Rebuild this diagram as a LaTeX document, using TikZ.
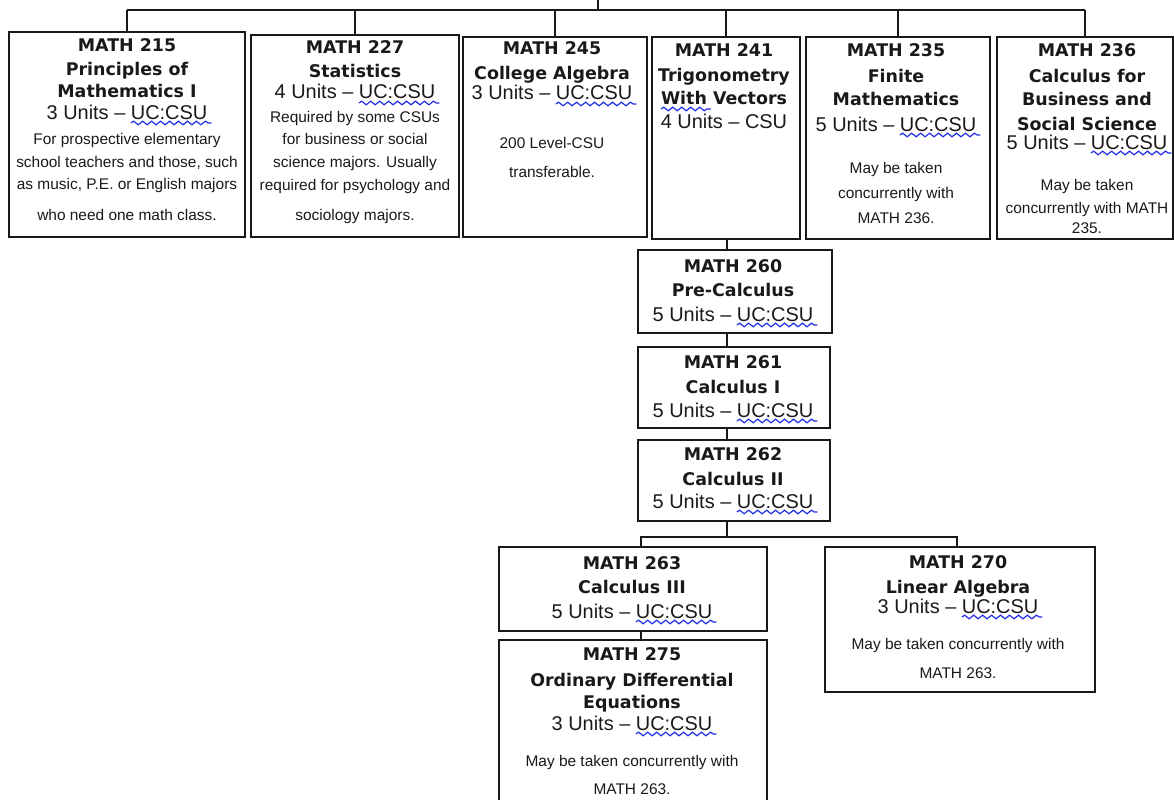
\documentclass[tikz,border=0pt]{standalone}
\usepackage{fontspec}
\setmainfont{Liberation Sans}
\newfontfamily\ttlfamily{DejaVu Sans}
\usetikzlibrary{decorations.pathmorphing}
\definecolor{sqblue}{RGB}{30,45,230}
\definecolor{ink}{RGB}{25,25,25}
\tikzset{
 box/.style={draw=ink, line width=2bp, inner sep=0pt, outer sep=0pt},
 ttl/.style={anchor=base, inner sep=0pt, text=ink, font=\ttlfamily\bfseries\fontsize{17.5}{20}\selectfont},
 unt/.style={anchor=base, inner sep=0pt, text=ink, font=\fontsize{20}{22}\selectfont},
 nte/.style={anchor=base, inner sep=0pt, text=ink, font=\fontsize{15.5}{18}\selectfont},
 conn/.style={draw=ink, line width=2bp},
 sqline/.style={sqblue, line width=1.2pt, decorate, decoration={snake, amplitude=1.8pt, segment length=9pt}},
}
\newcommand\sq[1]{\tikz[baseline=(sqt.base)]{\node[inner sep=0pt, outer sep=0pt, anchor=base] (sqt) {#1}; \draw[sqline, overlay] ([yshift=-4pt]sqt.base west) -- ([xshift=4pt,yshift=-4pt]sqt.base east);}}
\begin{document}
\begin{tikzpicture}[x=1bp,y=-1bp]
\useasboundingbox (0,0) rectangle (1174,800);
\clip (0,0) rectangle (1174,800);
% boxes
\node[box, minimum width=236bp, minimum height=205bp] (b215) at (127,134.5) {};
\node[box, minimum width=208bp, minimum height=202bp] (b227) at (355,136) {};
\node[box, minimum width=184bp, minimum height=200bp] (b245) at (555,137) {};
\node[box, minimum width=148bp, minimum height=202bp] (b241) at (726,138) {};
\node[box, minimum width=184bp, minimum height=202bp] (b235) at (898,138) {};
\node[box, minimum width=176bp, minimum height=202bp] (b236) at (1085,138) {};
\node[box, minimum width=194bp, minimum height=83bp] (b260) at (735,291.5) {};
\node[box, minimum width=192bp, minimum height=81bp] (b261) at (734,387.5) {};
\node[box, minimum width=192bp, minimum height=81bp] (b262) at (734,480.5) {};
\node[box, minimum width=268bp, minimum height=84bp] (b263) at (633,589) {};
\node[box, minimum width=268bp, minimum height=190bp] (b275) at (633,735) {};
\node[box, minimum width=270bp, minimum height=145bp] (b270) at (960,619.5) {};
% connectors
\coordinate (root) at (598,-5);
\coordinate (bus) at (598,10);
\coordinate (spine) at (727,0);
\coordinate (bus2) at (641,537);
\coordinate (bus2r) at (957,537);
\draw[conn] (root) -- (bus);
\draw[conn] (bus -| b215.north) -- (bus -| b236.north);
\foreach \b in {b215,b227,b245,b241,b235,b236} \draw[conn] (bus -| \b.north) -- (\b.north);
\draw[conn] (spine |- b241.south) -- (spine |- b260.north);
\draw[conn] (spine |- b260.south) -- (spine |- b261.north);
\draw[conn] (spine |- b261.south) -- (spine |- b262.north);
\draw[conn] (spine |- b262.south) -- (spine |- bus2);
\draw[conn] (bus2 |- b263.north) -- (bus2) -- (bus2r) -- (bus2r |- b270.north);
\draw[conn] (bus2 |- b263.south) -- (bus2 |- b275.north);
% MATH 215
\node[ttl] (t215a) at (127,52) {MATH 215};
\node[ttl] (t215b) at (127,76) {Principles of};
\node[ttl] (t215c) at (127,98) {Mathematics I};
\node[unt] (t215d) at (127,119) {3 Units – \sq{UC:CSU}};
\node[nte] (t215e) at (127,144) {For prospective elementary};
\node[nte] (t215f) at (127,167) {school teachers and those, such};
\node[nte] (t215g) at (127,189) {as music, P.E. or English majors};
\node[nte] (t215h) at (127,220) {who need one math class.};
% MATH 227
\node[ttl] (t227a) at (355,54) {MATH 227};
\node[ttl] (t227b) at (355,78) {Statistics};
\node[unt] (t227c) at (355,99) {4 Units – \sq{UC:CSU}};
\node[nte] (t227d) at (355,122) {Required by some CSUs};
\node[nte] (t227e) at (355,144) {for business or social};
\node[nte] (t227f) at (355,167) {science majors.  Usually};
\node[nte] (t227g) at (355,190) {required for psychology and};
\node[nte] (t227h) at (355,220) {sociology majors.};
% MATH 245
\node[ttl] (t245a) at (552,55) {MATH 245};
\node[ttl] (t245b) at (552,80) {College Algebra};
\node[unt] (t245c) at (552,100) {3 Units – \sq{UC:CSU}};
\node[nte] (t245d) at (552,148) {200 Level-CSU};
\node[nte] (t245e) at (552,177) {transferable.};
% MATH 241
\node[ttl] (t241a) at (724,57) {MATH 241};
\node[ttl] (t241b) at (724,82) {Trigonometry};
\node[ttl] (t241c) at (724,105) {\sq{With} Vectors};
\node[unt] (t241d) at (724,128) {4 Units – CSU};
% MATH 235
\node[ttl] (t235a) at (896,57) {MATH 235};
\node[ttl] (t235b) at (896,83) {Finite};
\node[ttl] (t235c) at (896,106) {Mathematics};
\node[unt] (t235d) at (896,131) {5 Units – \sq{UC:CSU}};
\node[nte] (t235e) at (896,173) {May be taken};
\node[nte] (t235f) at (896,198) {concurrently  with};
\node[nte] (t235g) at (896,223) {MATH 236.};
% MATH 236
\node[ttl] (t236a) at (1087,57) {MATH 236};
\node[ttl] (t236b) at (1087,83) {Calculus for};
\node[ttl] (t236c) at (1087,106) {Business and};
\node[ttl] (t236d) at (1087,130) {Social Science};
\node[unt] (t236e) at (1087,149) {5 Units – \sq{UC:CSU}};
\node[nte] (t236f) at (1087,190) {May be taken};
\node[nte] (t236g) at (1087,213) {concurrently with MATH};
\node[nte] (t236h) at (1087,233) {235.};
% MATH 260
\node[ttl] (t260a) at (733,272) {MATH 260};
\node[ttl] (t260b) at (733,296) {Pre-Calculus};
\node[unt] (t260c) at (733,321) {5 Units – \sq{UC:CSU}};
% MATH 261
\node[ttl] (t261a) at (733,368) {MATH 261};
\node[ttl] (t261b) at (733,393) {Calculus I};
\node[unt] (t261c) at (733,417) {5 Units – \sq{UC:CSU}};
% MATH 262
\node[ttl] (t262a) at (733,460) {MATH 262};
\node[ttl] (t262b) at (733,485) {Calculus II};
\node[unt] (t262c) at (733,508) {5 Units – \sq{UC:CSU}};
% MATH 263
\node[ttl] (t263a) at (632,569) {MATH 263};
\node[ttl] (t263b) at (632,593) {Calculus III};
\node[unt] (t263c) at (632,618) {5 Units – \sq{UC:CSU}};
% MATH 275
\node[ttl] (t275a) at (632,660) {MATH 275};
\node[ttl] (t275b) at (632,686) {Ordinary Differential};
\node[ttl] (t275c) at (632,708) {Equations};
\node[unt] (t275d) at (632,730) {3 Units – \sq{UC:CSU}};
\node[nte] (t275e) at (632,766) {May be taken concurrently  with};
\node[nte] (t275f) at (632,794) {MATH 263.};
% MATH 270
\node[ttl] (t270a) at (958,568) {MATH 270};
\node[ttl] (t270b) at (958,593) {Linear Algebra};
\node[unt] (t270c) at (958,613) {3 Units – \sq{UC:CSU}};
\node[nte] (t270d) at (958,649) {May be taken concurrently  with};
\node[nte] (t270e) at (958,678) {MATH 263.};
\end{tikzpicture}
\end{document}
